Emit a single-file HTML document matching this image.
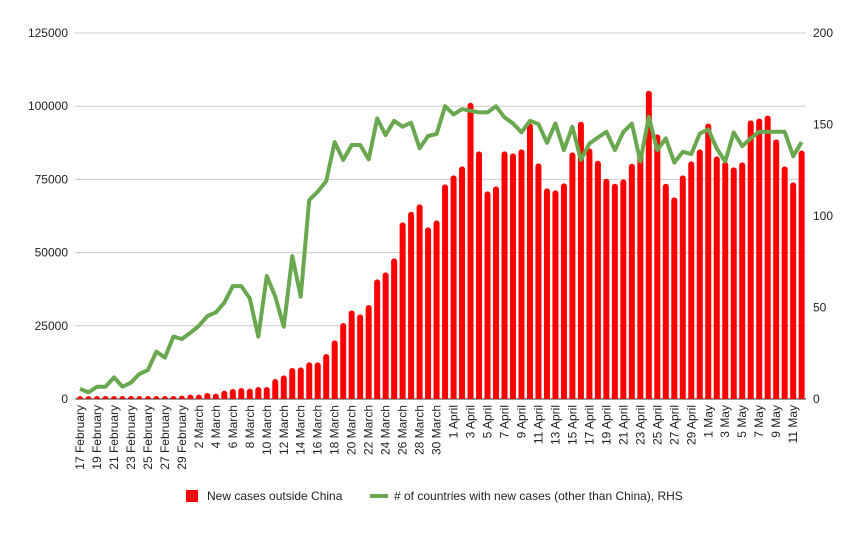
<!DOCTYPE html>
<html><head><meta charset="utf-8"><style>
body{margin:0;background:#fff;font-family:"Liberation Sans",Arial,sans-serif;}
svg text{font-family:"Liberation Sans",Arial,sans-serif;}
</style></head><body>
<svg id="chart" width="861" height="530" xmlns="http://www.w3.org/2000/svg">
<g id="grid"></g>
<g id="bars"></g>
<g id="line"></g>
<g id="axes"></g>
<g id="legend">
<g><rect x="186" y="490" width="12" height="12" fill="#ff0000"/><text x="207" y="500" font-size="12" fill="#222">New cases outside China</text></g>
<g><line x1="370" y1="496" x2="388" y2="496" stroke="#6aa84f" stroke-width="4"/><text x="394" y="500" font-size="12" fill="#222"># of countries with new cases (other than China), RHS</text></g>
</g>
</svg>
<script>
const cases=[50,50,60,80,100,120,150,200,340,680,910,680,1140,1480,1480,2050,1820,2840,3410,3750,3530,4100,4100,6830,8080,10580,10810,12520,12520,15360,20030,25940,30270,28900,32090,40850,43240,48020,60310,63950,66460,58610,61000,73290,76360,79430,101170,84560,70900,72610,84560,83880,85240,94110,80460,71930,71240,73630,84220,94680,85580,81370,75220,73510,75000,80340,84400,105270,90360,73500,68850,76360,81140,85240,94110,82850,81030,79090,80800,95140,95820,96840,88650,79430,73970,84890];
const countries=[5.5,3.6,6.7,6.7,11.8,6.7,8.9,13.7,15.8,25.9,22.6,34.1,32.8,36.2,40,45.3,47.3,52.6,61.7,61.7,55,34.1,67.2,55.9,39.5,78.1,55.9,108.7,113.3,119.1,140.4,130.6,138.8,138.8,131,153.3,144.2,152,148.8,151,137,143.7,144.8,160,155.5,158.4,157.5,156.6,156.6,160,153.9,150.6,145.7,152,150.2,140,150.6,136,148.8,130.6,139.6,142.9,146,136,146,150.5,129.7,154.2,136,142.4,129.2,135.1,133.8,145.1,147.3,136.9,129.7,145.7,138.2,142.4,146,146,146,146,132.7,140.4];
const leftTicks=[0,25000,50000,75000,100000,125000];
const rightTicks=[0,50,100,150,200];
const months=["February","March","April","May"];
const NS="http://www.w3.org/2000/svg";
const X0=80,DX=8.49,Y0=399,H=366;
function xs(i){return X0+i*DX;}
function yl(v){return Y0-v/125000*H;}
function yr(v){return Y0-v/200*H;}
function mk(t,a,p){const e=document.createElementNS(NS,t);for(const k in a)e.setAttribute(k,a[k]);p.appendChild(e);return e;}
function dateLabel(i){const d=new Date(2020,1,17+i);return d.getDate()+" "+months[d.getMonth()-1];}
const grid=document.getElementById('grid'),axes=document.getElementById('axes');
leftTicks.forEach((v,k)=>{
 const l=mk('line',{x1:75,x2:806,y1:yl(v),y2:yl(v),stroke:v===0?'#333':'#ccc','stroke-width':1},grid);
 
 
 const t=mk('text',{x:68,y:yl(v)+4,'text-anchor':'end','font-size':12,fill:'#222'},axes);
 t.textContent=v;
 
 
});
rightTicks.forEach(v=>{
 const t=mk('text',{x:813,y:yr(v)+4,'font-size':12,fill:'#222'},axes);
 t.textContent=v;
 
 
});
const bars=document.getElementById('bars');
cases.forEach((v,i)=>{
 const x=xs(i)-3,y=yl(v),h=Y0-y;
 const r=mk('path',{d:`M${x},${Y0}V${y+Math.min(3,h)}A3,3 0 0 1 ${x+6},${y+Math.min(3,h)}V${Y0}Z`,fill:'#ff0000'},bars);
 
 
});
const pts=countries.map((v,i)=>xs(i).toFixed(1)+','+yr(v).toFixed(1)).join(' ');
const pl=mk('polyline',{points:pts,fill:'none',stroke:'#6aa84f','stroke-width':4,'stroke-linejoin':'round'},document.getElementById('line'));


for(let i=0;i<cases.length;i+=2){
 const x=xs(i)+4,y=405;
 const t=mk('text',{x:x,y:y,'text-anchor':'end','font-size':12,fill:'#222',transform:`rotate(-90 ${x} ${y})`},axes);
 t.textContent=dateLabel(i);
 
 
}
</script>
</body></html>
